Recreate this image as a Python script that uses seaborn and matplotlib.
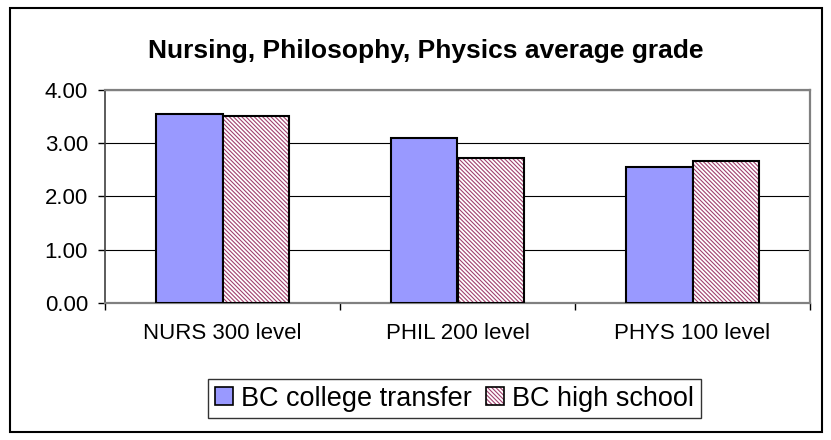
import pandas as pd
import seaborn as sns
import matplotlib.pyplot as plt
from matplotlib.patches import Rectangle, Patch
from matplotlib.legend_handler import HandlerTuple
from matplotlib.ticker import FormatStrFormatter

# chart values
courses = ["NURS 300 level", "PHIL 200 level", "PHYS 100 level"]
groups = ["BC college transfer", "BC high school"]
college_transfer = [3.55, 3.10, 2.56]
high_school = [3.51, 2.73, 2.67]

df = pd.DataFrame({
    "course": courses * 2,
    "group": [groups[0]] * 3 + [groups[1]] * 3,
    "grade": college_transfer + high_school,
})

sns.set_theme(style="white")
plt.rcParams["font.family"] = ["Liberation Sans", "DejaVu Sans"]
plt.rcParams["hatch.linewidth"] = 0.8
plt.rcParams["text.color"] = "black"

blue = "#9999FF"
maroon = "#A0406E"
stripes = "\\" * 8

fig = plt.figure(figsize=(8.31, 4.40), dpi=100)
ax = fig.add_axes([105 / 831, 1 - 302.7 / 440, 705 / 831, 212.7 / 440])

sns.barplot(data=df, x="course", y="grade", hue="group",
            palette=[blue, "white"], saturation=1, width=0.57,
            edgecolor="black", linewidth=1.5, legend=False, ax=ax, zorder=3)

# hatch the second series: maroon stripes, black outline on top
for bar in ax.containers[1]:
    bar.set_hatch(stripes)
    bar.set_edgecolor(maroon)
    bar.set_linewidth(0)
    x, y = bar.get_xy()
    ax.add_patch(Rectangle((x, y), bar.get_width(), bar.get_height(),
                           fill=False, edgecolor="black", linewidth=1.5, zorder=4))

ax.set_xlim(-0.5, 2.5)
ax.set_ylim(0, 4)
ax.set_yticks([0, 1, 2, 3, 4])
ax.yaxis.set_major_formatter(FormatStrFormatter("%.2f"))
ax.set_xlabel("")
ax.set_ylabel("")

ax.set_xticks([-0.5, 0.5, 1.5, 2.5], minor=True)
ax.tick_params(axis="x", which="major", length=0, pad=14.5, labelsize=16,
               labelcolor="black")
ax.tick_params(axis="x", which="minor", length=5, width=1, direction="out",
               bottom=True, color="black")
ax.tick_params(axis="y", which="major", length=5.4, width=1, direction="out",
               left=True, pad=6.8, labelsize=16, labelcolor="black", color="black")

ax.yaxis.grid(True, color="black", linewidth=0.8)
ax.set_axisbelow(True)
for side in ["top", "right", "bottom"]:
    ax.spines[side].set_color("#808080")
    ax.spines[side].set_linewidth(1.6)
ax.spines["left"].set_color("#404040")
ax.spines["left"].set_linewidth(1.2)

fig.text(426 / 831, 1 - 58 / 440, "Nursing, Philosophy, Physics average grade",
         ha="center", va="baseline", fontsize=19, fontweight="bold", color="black")

h1 = Patch(facecolor=blue, edgecolor="black", linewidth=1.2)
h2 = (Patch(facecolor="white", edgecolor=maroon, hatch=stripes, linewidth=0),
      Patch(fill=False, edgecolor="black", linewidth=1.2))
leg = fig.legend([h1, h2], groups, loc="center",
                 bbox_to_anchor=(454.5 / 831, 1 - 398.5 / 440), ncol=2,
                 fontsize=19.5, frameon=True, fancybox=False, shadow=False,
                 handlelength=0.68, handleheight=0.68, handletextpad=0.3,
                 columnspacing=0.5, borderpad=0.25, borderaxespad=0,
                 handler_map={tuple: HandlerTuple(ndivide=1, pad=0)})
leg.get_frame().set_edgecolor("black")
leg.get_frame().set_linewidth(1.0)
for t in leg.get_texts():
    t.set_color("black")

fig.add_artist(Rectangle((10 / 831, 1 - 432 / 440), 812 / 831, 424 / 440,
                         transform=fig.transFigure, fill=False,
                         edgecolor="black", linewidth=1.5))

fig.savefig("out.png", dpi=100)
